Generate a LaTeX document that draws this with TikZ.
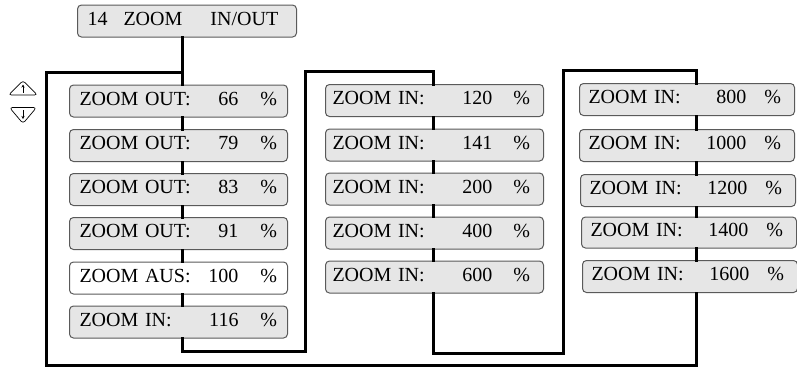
\documentclass[tikz,border=0pt]{standalone}
\usepackage{fontspec}
\setmainfont{Liberation Serif}
\usetikzlibrary{arrows.meta}
\definecolor{boxfill}{HTML}{E6E6E6}
\definecolor{boxline}{HTML}{5A5A5A}
\tikzset{
  x=1pt,y=-1pt,
  menubox/.style={draw=boxline,line width=1pt,rounded corners=4pt,fill=boxfill,
    anchor=west,minimum height=32pt,inner ysep=0pt,text height=12pt,text depth=4pt,
    align=left,font=\fontsize{20}{22}\selectfont},
  whitebox/.style={menubox,fill=white},
  colA/.style={inner xsep=10pt,text width=198pt},
  colB/.style={inner xsep=7pt,text width=204pt},
  colC/.style={inner xsep=9pt,text width=197pt},
  conn/.style={line width=3pt,line cap=rect},
  icon/.style={draw=black,line width=0.7pt,rounded corners=3pt},
  iconarrow/.style={line width=0.7pt,-{Stealth[length=3pt,width=3pt]}}
}
\newcommand{\rowA}[2]{\makebox[159pt][l]{#1}\makebox[0pt][r]{#2}\hspace{22pt}\%}
\newcommand{\rowB}[2]{\makebox[160pt][l]{#1}\makebox[0pt][r]{#2}\hspace{21pt}\%}
\newcommand{\rowC}[2]{\makebox[158pt][l]{#1}\makebox[0pt][r]{#2}\hspace{18pt}\%}
\begin{document}
\begin{tikzpicture}
\useasboundingbox (0,0) rectangle (797,368);
% title
\node[menubox,inner xsep=10pt,text width=199pt] (title) at (77,21)
  {\makebox[36pt][l]{14}\makebox[87pt][l]{ZOOM}IN/OUT};
% column 1
\node[menubox,colA] (a1) at (69,101) {\rowA{ZOOM OUT:}{66}};
\node[menubox,colA] (a2) at (69,145.5) {\rowA{ZOOM OUT:}{79}};
\node[menubox,colA] (a3) at (69,189.5) {\rowA{ZOOM OUT:}{83}};
\node[menubox,colA] (a4) at (69,233.5) {\rowA{ZOOM OUT:}{91}};
\node[whitebox,colA] (a5) at (69,278) {\rowA{ZOOM AUS:}{100}};
\node[menubox,colA] (a6) at (69,322) {\rowA{ZOOM IN:}{116}};
% column 2
\node[menubox,colB] (b1) at (325,100.5) {\rowB{ZOOM IN:}{120}};
\node[menubox,colB] (b2) at (325,145) {\rowB{ZOOM IN:}{141}};
\node[menubox,colB] (b3) at (325,189) {\rowB{ZOOM IN:}{200}};
\node[menubox,colB] (b4) at (325,233) {\rowB{ZOOM IN:}{400}};
\node[menubox,colB] (b5) at (325,277) {\rowB{ZOOM IN:}{600}};
% column 3
\node[menubox,colC] (c1) at (579,99.5) {\rowC{ZOOM IN:}{800}};
\node[menubox,colC] (c2) at (579,145.5) {\rowC{ZOOM IN:}{1000}};
\node[menubox,colC] (c3) at (580,190.5) {\rowC{ZOOM IN:}{1200}};
\node[menubox,colC,minimum height=31pt] (c4) at (581,232.5) {\rowC{ZOOM IN:}{1400}};
\node[menubox,colC] (c5) at (582,276.5) {\rowC{ZOOM IN:}{1600}};
% line positions
\coordinate (xa) at (182,0);
\coordinate (xb) at (433,0);
\coordinate (xc) at (696,0);
\coordinate (J) at (182,72);
\coordinate (L1) at (46,72);
\coordinate (L2) at (46,365.5);
\coordinate (L3) at (696,365.5);
\coordinate (R1) at (696,70);
\coordinate (R2) at (563,70);
\coordinate (R3) at (563,353);
\coordinate (R4) at (433,353);
\coordinate (M1) at (433,71);
\coordinate (M2) at (305,71);
\coordinate (M3) at (305,351);
\coordinate (M4) at (182,351);
% connectors
\draw[conn] (title.south -| xa) -- (J) -- (a1.north -| xa);
\draw[conn] (J) -- (L1) -- (L2) -- (L3) -- (c5.south -| xc);
\draw[conn] (c1.north -| xc) -- (R1) -- (R2) -- (R3) -- (R4) -- (b5.south -| xb);
\draw[conn] (b1.north -| xb) -- (M1) -- (M2) -- (M3) -- (M4) -- (a6.south -| xa);
\foreach \u/\v in {a1/a2,a2/a3,a3/a4,a4/a5,a5/a6}
  \draw[conn] (\u.south -| xa) -- (\v.north -| xa);
\foreach \u/\v in {b1/b2,b2/b3,b3/b4,b4/b5}
  \draw[conn] (\u.south -| xb) -- (\v.north -| xb);
\foreach \u/\v in {c1/c2,c2/c3,c3/c4,c4/c5}
  \draw[conn] (\u.south -| xc) -- (\v.north -| xc);
% up/down icons
\draw[icon] (8.5,95) -- (23,80.5) -- (37.5,95) -- cycle;
\draw[iconarrow] (23,92.5) -- (23,84.5);
\draw[icon] (9.5,107.5) -- (23,123.5) -- (36.5,107.5) -- cycle;
\draw[iconarrow] (23,110) -- (23,119);
\end{tikzpicture}
\end{document}
